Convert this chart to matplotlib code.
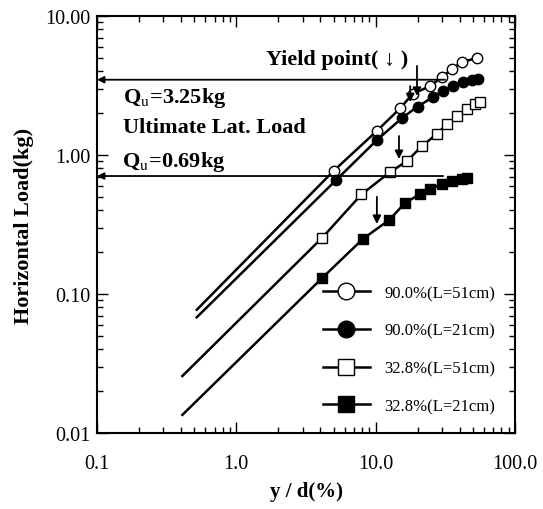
import numpy as np
import matplotlib
matplotlib.use('Agg')
import matplotlib.pyplot as plt

plt.rcParams['font.family'] = ['Liberation Serif', 'DejaVu Serif']
plt.rcParams['mathtext.fontset'] = 'stix'

# lower end of each drawn line (y/d %, load kg)
line_start_x = [0.52, 0.52, 0.41, 0.41]
line_start_y = [0.077, 0.068, 0.0257, 0.0135]

# 90.0% (L=51cm) open circles
x_90_51 = [5.0, 10.2, 15.0, 18.4, 24.6, 30.0, 35.3, 41.7, 53.5]
y_90_51 = [0.77, 1.49, 2.17, 2.75, 3.13, 3.64, 4.16, 4.67, 4.99]
# 90.0% (L=21cm) filled circles
x_90_21 = [5.2, 10.2, 15.5, 20.0, 25.8, 30.5, 36.0, 42.4, 49.2, 54.3]
y_90_21 = [0.66, 1.28, 1.85, 2.23, 2.61, 2.89, 3.13, 3.35, 3.46, 3.52]
# 32.8% (L=51cm) open squares
x_33_51 = [4.12, 7.9, 12.6, 16.8, 21.5, 27.6, 32.6, 38.4, 45.3, 51.7, 56.1]
y_33_51 = [0.253, 0.52, 0.75, 0.906, 1.16, 1.42, 1.67, 1.91, 2.14, 2.33, 2.41]
# 32.8% (L=21cm) filled squares
x_33_21 = [4.12, 8.1, 12.5, 16.2, 20.8, 24.6, 30.0, 35.3, 41.7, 45.5]
y_33_21 = [0.130, 0.249, 0.341, 0.45, 0.524, 0.57, 0.62, 0.65, 0.67, 0.68]

labels = ['90.0%(L=51cm)', '90.0%(L=21cm)', '32.8%(L=51cm)', '32.8%(L=21cm)']

# ultimate lateral load lines (level, right end)
qu_level = [3.48, 0.706]
qu_end_x = [31.5, 30.5]

# yield point arrows (x, top, tip)
yield_x = [19.8, 17.7, 14.7, 10.2]
yield_top = [4.37, 3.13, 1.37, 0.50]
yield_tip = [2.66, 2.40, 0.935, 0.319]

xticks = [0.1, 1.0, 10.0, 100.0]
xticklabels = ['0.1', '1.0', '10.0', '100.0']
yticks = [0.01, 0.1, 1.0, 10.0]
yticklabels = ['0.01', '0.10', '1.00', '10.00']

fig = plt.figure(figsize=(5.43, 5.10), dpi=100)
ax = fig.add_axes([97 / 543, 1 - 434 / 510, 418 / 543, 417 / 510])

series = [(x_90_51, y_90_51, 'o', 'white'),
          (x_90_21, y_90_21, 'o', 'black'),
          (x_33_51, y_33_51, 's', 'white'),
          (x_33_21, y_33_21, 's', 'black')]
for i, (xs, ys, m, fc) in enumerate(series):
    lx = [line_start_x[i]] + xs
    ly = [line_start_y[i]] + ys
    ax.plot(lx, ly, color='k', lw=1.8, marker=m, ms=7.5, mfc=fc, mec='k',
            mew=1.0, markevery=list(range(1, len(lx))), label=labels[i])

for lev, xe in zip(qu_level, qu_end_x):
    ax.annotate('', xy=(0.1, lev), xytext=(xe, lev),
                arrowprops=dict(arrowstyle='-|>', color='k', lw=1.3,
                                mutation_scale=10, shrinkA=0, shrinkB=0))
for xv, yt, yp in zip(yield_x, yield_top, yield_tip):
    ax.annotate('', xy=(xv, yp), xytext=(xv, yt),
                arrowprops=dict(arrowstyle='-|>', color='k', lw=1.3,
                                mutation_scale=12, shrinkA=0, shrinkB=0))

ax.set_xscale('log')
ax.set_yscale('log')
ax.set_xlim(0.1, 100)
ax.set_ylim(0.01, 10)
ax.set_xticks(xticks)
ax.set_xticklabels(xticklabels)
ax.set_yticks(yticks)
ax.set_yticklabels(yticklabels)
ax.tick_params(which='both', direction='in', top=True, right=True, width=1.0)
ax.tick_params(which='major', length=8, labelsize=14.5)
ax.tick_params(which='minor', length=4.5)
ax.tick_params(axis='x', which='major', pad=15)
ax.tick_params(axis='y', which='major', pad=5)
for sp in ax.spines.values():
    sp.set_linewidth(1.5)

ax.set_xlabel('y / d(%)', fontsize=15, fontweight='bold', labelpad=6)
ax.set_ylabel('Horizontal Load(kg)', fontsize=16, fontweight='bold', labelpad=8)

def px(x, y):
    return (x - 97) / 418, (434 - y) / 417

tkw = dict(transform=ax.transAxes, fontsize=16, fontweight='bold', va='center')
ax.text(*px(266, 60), 'Yield point( \u2193 )', **tkw)
ax.text(*px(123, 98), 'Q$_{\\rm u}$=3.25kg', **tkw)
ax.text(*px(123, 128), 'Ultimate Lat. Load', **tkw)
ax.text(*px(122, 162), 'Q$_{\\rm u}$=0.69kg', **tkw)

ax.legend(loc='upper left', bbox_to_anchor=px(323, 286), frameon=False,
          fontsize=12, markerscale=1.6, handlelength=2.8, handletextpad=0.9,
          labelspacing=1.3, borderpad=0, borderaxespad=0)

fig.savefig('out.png', dpi=100)
